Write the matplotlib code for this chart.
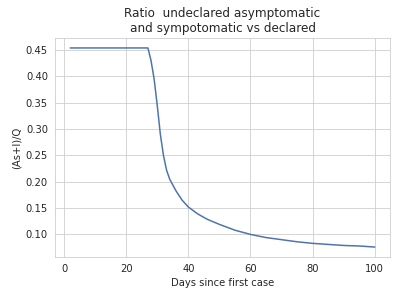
import matplotlib
matplotlib.use("Agg")
import matplotlib.pyplot as plt
import seaborn as sns

days = [2, 27, 28, 29, 30, 31, 32, 33, 34, 36, 38, 40, 43, 46, 50, 55,
        60, 65, 70, 75, 80, 85, 90, 95, 100]
ratio = [0.454, 0.454, 0.43, 0.395, 0.345, 0.29, 0.25, 0.222, 0.205, 0.183,
         0.165, 0.152, 0.139, 0.129, 0.119, 0.108, 0.100, 0.094, 0.090,
         0.086, 0.083, 0.081, 0.079, 0.078, 0.076]

sns.set_style("whitegrid")
fig = plt.figure(figsize=(397 / 72, 296 / 72), dpi=72)
ax = fig.add_axes([55 / 397, 1 - 257 / 296, 335 / 397, 219 / 296])
ax.plot(days, ratio, color="#4c72b0", linewidth=1.5)
ax.set_title("Ratio  undeclared asymptomatic\nand sympotomatic vs declared", fontsize=12)
ax.set_xlabel("Days since first case", fontsize=10)
ax.set_ylabel("(As+I)/Q", fontsize=10)
ax.tick_params(labelsize=10)
fig.savefig("out.png", dpi=72)
